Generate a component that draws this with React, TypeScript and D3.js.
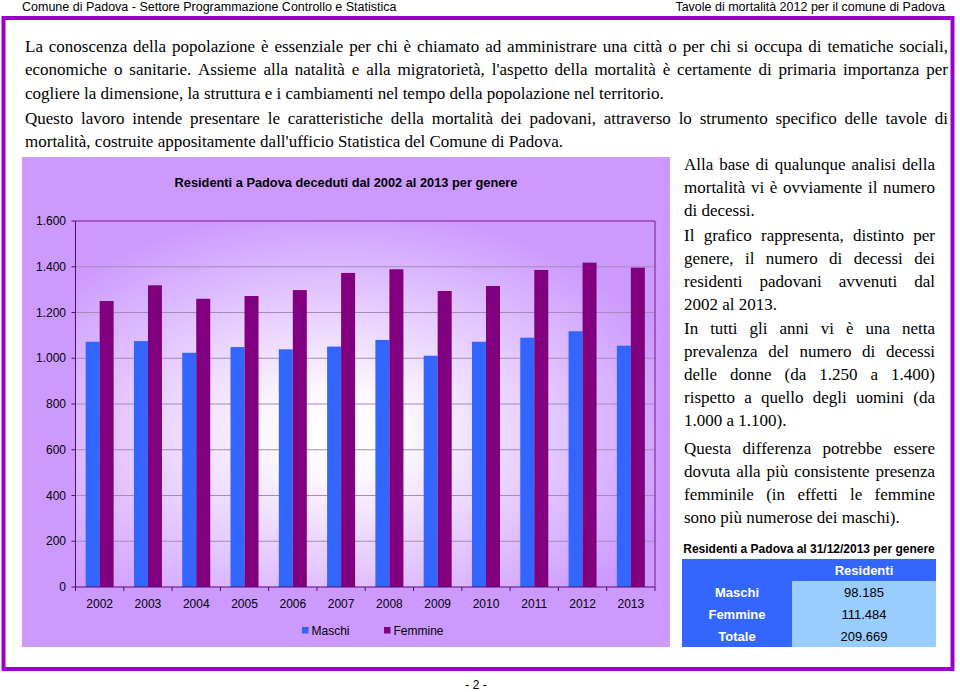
import React from 'react'
import * as d3 from 'd3'

const years = ['2002', '2003', '2004', '2005', '2006', '2007', '2008', '2009', '2010', '2011', '2012', '2013']
const maschi = [1072, 1075, 1024, 1049, 1039, 1051, 1080, 1011, 1072, 1090, 1118, 1055]
const femmine = [1250, 1319, 1260, 1272, 1298, 1373, 1389, 1294, 1316, 1386, 1418, 1396]
const yTicks = [0, 200, 400, 600, 800, 1000, 1200, 1400, 1600]
const seriesNames = ['Maschi', 'Femmine']
const seriesColors = ['#3366FF', '#800080']

const tableRows = ['Maschi', 'Femmine', 'Totale']
const tableValues = ['98.185', '111.484', '209.669']

// paragraph lines: [text, justified]
const introLines: [string, boolean][] = [
  ['La conoscenza della popolazione è essenziale per chi è chiamato ad amministrare una città o per chi si occupa di tematiche sociali,', true],
  ["economiche o sanitarie. Assieme alla natalità e alla migratorietà, l'aspetto della mortalità è certamente di primaria importanza per", true],
  ['cogliere la dimensione, la struttura e i cambiamenti nel tempo della popolazione nel territorio.', false],
  ['Questo lavoro intende presentare le caratteristiche della mortalità dei padovani, attraverso lo strumento specifico delle tavole di', true],
  ["mortalità, costruite appositamente dall'ufficio Statistica del Comune di Padova.", false],
]
const introBaselines = [52, 75, 99, 124, 147]

const sideLines: [string, boolean][] = [
  ['Alla base di qualunque analisi della', true],
  ['mortalità vi è ovviamente il numero', true],
  ['di decessi.', false],
  ['Il grafico rappresenta, distinto per', true],
  ['genere, il numero di decessi dei', true],
  ['residenti padovani avvenuti dal', true],
  ['2002 al 2013.', false],
  ['In tutti gli anni vi è una netta', true],
  ['prevalenza del numero di decessi', true],
  ['delle donne (da 1.250 a 1.400)', true],
  ['rispetto a quello degli uomini (da', true],
  ['1.000 a 1.100).', false],
  ['Questa differenza potrebbe essere', true],
  ['dovuta alla più consistente presenza', true],
  ['femminile (in effetti le femmine', true],
  ['sono più numerose dei maschi).', false],
]
const sideBaselines = [170, 193, 216, 241, 264, 287, 310, 334, 357, 380, 403, 426, 454, 477, 500, 523]

const itFormat = d3.formatLocale({ decimal: ',', thousands: '.', grouping: [3], currency: ['€', ''] }).format(',d')

const serif = '"Liberation Serif", "DejaVu Serif", serif'
const sans = '"Liberation Sans", Arial, sans-serif'
const serifSize = 17

let ctx: CanvasRenderingContext2D | null = null
function measure(t: string) {
  if (!ctx) ctx = document.createElement('canvas').getContext('2d')
  if (!ctx) return t.length * 7
  ctx.font = `${serifSize}px "Liberation Serif"`
  return ctx.measureText(t).width
}

// justified line: words spread with equal gaps to fill the width
function Line({ text, x, y, width, justify }: { text: string; x: number; y: number; width: number; justify: boolean }) {
  if (!justify) {
    return <text x={x} y={y} fontFamily={serif} fontSize={serifSize} fill="#000">{text}</text>
  }
  const words = text.split(' ')
  const widths = words.map(measure)
  const gap = (width - d3.sum(widths)) / (words.length - 1)
  let cx = x
  const xs = widths.map(w => { const p = cx; cx += w + gap; return p })
  return (
    <text y={y} fontFamily={serif} fontSize={serifSize} fill="#000">
      {words.map((w, i) => <tspan key={i} x={xs[i]}>{w}</tspan>)}
    </text>
  )
}

export default function App() {
  const plot = { left: 75.5, right: 655, top: 221, bottom: 587 }
  const x = d3.scaleBand<string>().domain(years).range([plot.left, plot.right])
  const groupW = 28
  const inner = d3.scaleBand<string>().domain(seriesNames).range([0, groupW])
  const y = d3.scaleLinear().domain([0, 1600]).range([plot.bottom, plot.top])
  const data = [maschi, femmine]

  const tickXs = years.map(yr => x(yr) as number).concat([plot.right])

  return (
    <svg width={960} height={692} style={{ position: 'absolute', left: 0, top: 0, background: '#fff' }}>
      <defs>
        <radialGradient id="plotGrad" cx="0.45" cy="0.58" r="0.62">
          <stop offset="0" stopColor="#ffffff" />
          <stop offset="0.2" stopColor="#fcf7ff" />
          <stop offset="1" stopColor="#cc99ff" />
        </radialGradient>
      </defs>

      {/* header */}
      <text x={22} y={11} fontFamily={sans} fontSize={12.5} fill="#000">
        Comune di Padova - Settore Programmazione Controllo e Statistica
      </text>
      <text x={945} y={11} fontFamily={sans} fontSize={12.5} fill="#000" textAnchor="end">
        Tavole di mortalità 2012 per il comune di Padova
      </text>

      {/* page frame */}
      <rect x={3.5} y={18} width={949} height={651} fill="none" stroke="#9900CC" strokeWidth={4} />

      {/* intro paragraph */}
      {introLines.map(([t, just], i) => (
        <Line key={i} text={t} x={25} y={introBaselines[i]} width={923} justify={just} />
      ))}

      {/* chart panel */}
      <rect x={22} y={157} width={648} height={490} fill="#CC99FF" />
      <text x={346} y={187} fontFamily={sans} fontSize={12.8} fontWeight="bold" textAnchor="middle" fill="#000">
        Residenti a Padova deceduti dal 2002 al 2013 per genere
      </text>
      <rect x={plot.left} y={plot.top} width={plot.right - plot.left} height={plot.bottom - plot.top} fill="url(#plotGrad)" />
      {yTicks.filter(v => v > 0 && v < 1600).map(v => (
        <line key={v} x1={plot.left} x2={plot.right} y1={y(v)} y2={y(v)} stroke="#a48cb6" strokeWidth={1} />
      ))}
      {/* bars */}
      {data.map((series, si) =>
        series.map((v, i) => {
          const bx = (x(years[i]) as number) + (x.bandwidth() - groupW) / 2 + (inner(seriesNames[si]) as number)
          return (
            <rect key={`${si}-${i}`} x={bx} y={y(v)} width={inner.bandwidth()} height={y(0) - y(v)} fill={seriesColors[si]} />
          )
        })
      )}
      {/* plot frame */}
      <line x1={plot.left} x2={plot.right} y1={plot.top} y2={plot.top} stroke="#7a1a8a" strokeWidth={1} />
      <line x1={plot.right} x2={plot.right} y1={plot.top} y2={plot.bottom} stroke="#7a1a8a" strokeWidth={1} />
      <line x1={plot.left} x2={plot.left} y1={plot.top} y2={plot.bottom} stroke="#5a0a6a" strokeWidth={1} />
      <line x1={plot.left} x2={plot.right} y1={plot.bottom} y2={plot.bottom} stroke="#5a0a6a" strokeWidth={1} />
      {/* y axis */}
      {yTicks.map(v => (
        <g key={v}>
          <line x1={plot.left - 4} x2={plot.left} y1={y(v)} y2={y(v)} stroke="#5a0a6a" />
          <text x={66} y={y(v) + 4} fontFamily={sans} fontSize={12} textAnchor="end" fill="#000">
            {itFormat(v)}
          </text>
        </g>
      ))}
      {/* x axis */}
      {tickXs.map((tx, i) => (
        <line key={i} x1={tx} x2={tx} y1={plot.bottom} y2={plot.bottom + 4} stroke="#5a0a6a" />
      ))}
      {years.map(yr => (
        <text key={yr} x={(x(yr) as number) + x.bandwidth() / 2} y={608} fontFamily={sans} fontSize={12} textAnchor="middle" fill="#000">
          {yr}
        </text>
      ))}
      {/* legend */}
      {seriesNames.map((name, i) => (
        <g key={name} transform={`translate(${302 + i * 82},627)`}>
          <rect x={0} y={0} width={6.5} height={6.5} fill={seriesColors[i]} />
          <text x={9.5} y={7.5} fontFamily={sans} fontSize={12} fill="#000">{name}</text>
        </g>
      ))}

      {/* side text */}
      {sideLines.map(([t, just], i) => (
        <Line key={i} text={t} x={684} y={sideBaselines[i]} width={251} justify={just} />
      ))}

      {/* residents table */}
      <text x={809} y={553} fontFamily={sans} fontSize={12} fontWeight="bold" textAnchor="middle" fill="#000">
        Residenti a Padova al 31/12/2013 per genere
      </text>
      <rect x={682} y={559} width={254} height={88} fill="#3366FF" />
      <rect x={792} y={581} width={144} height={66} fill="#99CCFF" />
      <text x={864} y={575} fontFamily={sans} fontSize={13} fontWeight="bold" fill="#fff" textAnchor="middle">Residenti</text>
      {tableRows.map((r, i) => (
        <g key={r}>
          <text x={737} y={597 + i * 22} fontFamily={sans} fontSize={13} fontWeight="bold" fill="#fff" textAnchor="middle">{r}</text>
          <text x={864} y={597 + i * 22} fontFamily={sans} fontSize={13} fill="#000" textAnchor="middle">{tableValues[i]}</text>
        </g>
      ))}

      {/* footer */}
      <text x={476} y={689} fontFamily={sans} fontSize={12} textAnchor="middle" fill="#000">- 2 -</text>
    </svg>
  )
}
